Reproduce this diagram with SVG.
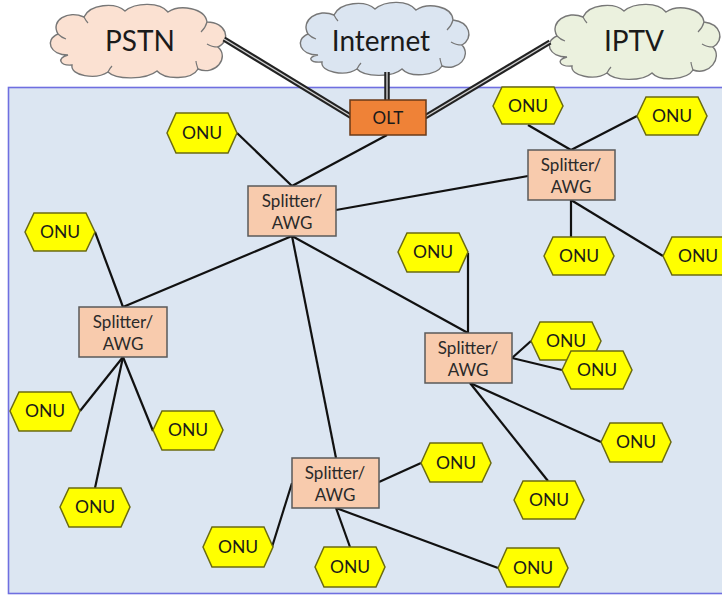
<svg xmlns="http://www.w3.org/2000/svg" width="722" height="600" viewBox="0 0 722 600">
<defs>
<style>
.t{font-family:Lato,"Open Sans","Liberation Sans",sans-serif;text-anchor:middle;fill:#1a1a1a}
.onu polygon{fill:#ffff00;stroke:#6b6b10;stroke-width:1.5}
.onu text{font-size:17.5px}
.sp rect{fill:#f8cbad;stroke:#5a5a5a;stroke-width:1.5}
.sp text{font-size:17px;fill:#2a2a2a}
.ln line{stroke:#111;stroke-width:2.2}
.dbl{stroke:#222;stroke-width:5.5}
.dbi{stroke:#d0d0d0;stroke-width:1.4}
.cloud path.c{stroke:#777;stroke-width:1.4}
.cloud path.i{fill:none;stroke:#777;stroke-width:1.2}
.cloud text{font-size:28px}
</style>
</defs>
<rect width="722" height="600" fill="#ffffff"/>
<rect id="panel" x="8.5" y="87.5" width="720" height="506" fill="#dce6f2" stroke="#6f6fe0" stroke-width="1.6"/>

<g id="clouds" class="cloud">
<g id="pstn">
<path class="c" d="M 68,55 C 50,55 44,40 58,34 C 50,20 68,10 84,17 C 90,4 115,2 125,11 C 136,2 160,2 168,12 C 180,4 205,8 207,22 C 226,22 232,40 218,47 C 230,58 215,76 198,69 C 192,80 165,80 157,71 C 146,80 116,80 108,72 C 96,80 70,76 72,65 C 60,66 56,58 68,55 Z" fill="#fbe1d2"/>
<path class="i" d="M 58,34 C 60,36 63,38 66,39 M 84,17 C 85,19 86,21 88,23 M 207,22 C 206,26 204,29 201,32 M 218,47 C 214,47 210,46 207,44 M 198,69 C 197,66 196,63 196,61 M 108,72 C 109,70 110,68 112,66"/>
<text class="t" x="140" y="51">PSTN</text>
</g>
<g id="internet">
<path class="c" d="M 318,55 C 300,55 294,40 308,34 C 300,20 318,8 334,15 C 340,2 365,0 375,9 C 386,0 408,0 416,10 C 428,2 452,6 453,20 C 470,22 474,38 462,45 C 472,56 458,72 442,66 C 436,76 410,78 402,69 C 392,78 364,77 357,69 C 345,77 320,72 322,62 C 310,63 306,57 318,55 Z" fill="#dbe5f1"/>
<path class="i" d="M 308,34 C 310,36 313,38 316,39 M 334,15 C 335,17 336,19 338,21 M 453,20 C 452,24 450,27 447,30 M 462,45 C 458,45 454,44 451,42 M 442,66 C 441,63 440,60 440,58 M 357,69 C 358,67 359,65 361,63"/>
<text class="t" x="381" y="51">Internet</text>
</g>
<g id="iptv">
<path class="c" d="M 567,57 C 549,57 543,42 557,36 C 549,22 567,10 583,17 C 589,4 614,2 624,11 C 635,2 658,2 666,12 C 678,4 702,8 704,22 C 721,24 725,40 713,47 C 723,58 709,76 693,70 C 687,80 660,82 652,73 C 642,82 614,81 607,73 C 595,81 570,76 572,66 C 560,67 555,60 567,57 Z" fill="#ebf1de"/>
<path class="i" d="M 557,36 C 559,38 562,40 565,41 M 583,17 C 584,19 585,21 587,23 M 704,22 C 703,26 701,29 698,32 M 713,47 C 709,47 705,46 702,44 M 693,70 C 692,67 691,64 691,62 M 607,73 C 608,71 609,69 611,67"/>
<text class="t" x="634" y="51">IPTV</text>
</g>
</g>

<g id="uplinks">
<line class="dbl" x1="224" y1="39" x2="352" y2="117"/>
<line class="dbi" x1="224" y1="39" x2="352" y2="117"/>
<line class="dbl" x1="387" y1="72" x2="387" y2="101"/>
<line class="dbi" x1="387" y1="72" x2="387" y2="101"/>
<line class="dbl" x1="550" y1="42" x2="425" y2="117"/>
<line class="dbi" x1="550" y1="42" x2="425" y2="117"/>
</g>

<g id="connectors" class="ln">
<line x1="387" y1="135" x2="292" y2="186"/>
<line x1="237" y1="133" x2="292" y2="186"/>
<line x1="336" y1="210" x2="528" y2="176"/>
<line x1="292" y1="236" x2="123" y2="307"/>
<line x1="292" y1="236" x2="336" y2="458"/>
<line x1="292" y1="236" x2="468" y2="333"/>
<line x1="528" y1="125" x2="571" y2="150"/>
<line x1="637" y1="116" x2="571" y2="150"/>
<line x1="571" y1="200" x2="571" y2="237"/>
<line x1="571" y1="200" x2="663" y2="256"/>
<line x1="95" y1="232" x2="123" y2="307"/>
<line x1="80" y1="411" x2="123" y2="357"/>
<line x1="123" y1="357" x2="153" y2="431"/>
<line x1="123" y1="357" x2="95" y2="488"/>
<line x1="468" y1="253" x2="468" y2="333"/>
<line x1="512" y1="358" x2="531" y2="341"/>
<line x1="512" y1="358" x2="562" y2="370"/>
<line x1="470" y1="383" x2="601" y2="442"/>
<line x1="470" y1="383" x2="548" y2="481"/>
<line x1="379" y1="482" x2="421" y2="463"/>
<line x1="272" y1="547" x2="292" y2="483"/>
<line x1="336" y1="508" x2="350" y2="547"/>
<line x1="336" y1="508" x2="498" y2="568"/>
</g>

<g id="olt">
<rect x="350" y="100" width="76" height="35" fill="#ef8237" stroke="#6a3a18" stroke-width="1.5"/>
<text class="t" x="388" y="124" font-size="17">OLT</text>
</g>

<g id="sp1" class="sp"><rect x="248" y="186" width="88" height="50"/><text class="t" x="292" y="207">Splitter/</text><text class="t" x="292" y="229">AWG</text></g>
<g id="sp2" class="sp"><rect x="528" y="150" width="87" height="50"/><text class="t" x="571" y="171">Splitter/</text><text class="t" x="571" y="193">AWG</text></g>
<g id="sp3" class="sp"><rect x="79" y="307" width="88" height="50"/><text class="t" x="123" y="328">Splitter/</text><text class="t" x="123" y="350">AWG</text></g>
<g id="sp4" class="sp"><rect x="425" y="333" width="87" height="50"/><text class="t" x="468" y="354">Splitter/</text><text class="t" x="468" y="376">AWG</text></g>
<g id="sp5" class="sp"><rect x="292" y="458" width="87" height="50"/><text class="t" x="335" y="479">Splitter/</text><text class="t" x="335" y="501">AWG</text></g>

<g id="onu1" class="onu" transform="translate(167,113)"><polygon points="0,20 9,0 61,0 70,20 61,40 9,40"/><text class="t" x="35" y="26">ONU</text></g>
<g id="onu2" class="onu" transform="translate(493,87)"><polygon points="0,19 9,0 61,0 70,19 61,37 9,37"/><text class="t" x="35" y="25">ONU</text></g>
<g id="onu3" class="onu" transform="translate(637,97)"><polygon points="0,19 9,0 61,0 70,19 61,38 9,38"/><text class="t" x="35" y="25">ONU</text></g>
<g id="onu4" class="onu" transform="translate(544,237)"><polygon points="0,19 9,0 61,0 70,19 61,38 9,38"/><text class="t" x="35" y="25">ONU</text></g>
<g id="onu5" class="onu" transform="translate(663,237)"><polygon points="0,19 9,0 61,0 70,19 61,38 9,38"/><text class="t" x="35" y="25">ONU</text></g>
<g id="onu6" class="onu" transform="translate(25,213)"><polygon points="0,19 9,0 61,0 70,19 61,38 9,38"/><text class="t" x="35" y="25">ONU</text></g>
<g id="onu7" class="onu" transform="translate(10,392)"><polygon points="0,19 9,0 61,0 70,19 61,39 9,39"/><text class="t" x="35" y="25">ONU</text></g>
<g id="onu8" class="onu" transform="translate(153,411)"><polygon points="0,19 9,0 61,0 70,19 61,39 9,39"/><text class="t" x="35" y="25">ONU</text></g>
<g id="onu9" class="onu" transform="translate(60,488)"><polygon points="0,19 9,0 61,0 70,19 61,39 9,39"/><text class="t" x="35" y="25">ONU</text></g>
<g id="onu10" class="onu" transform="translate(398,233)"><polygon points="0,19 9,0 61,0 70,19 61,39 9,39"/><text class="t" x="35" y="25">ONU</text></g>
<g id="onu11" class="onu" transform="translate(531,322)"><polygon points="0,19 9,0 61,0 70,19 61,38 9,38"/><text class="t" x="35" y="25">ONU</text></g>
<g id="onu12" class="onu" transform="translate(562,351)"><polygon points="0,19 9,0 61,0 70,19 61,38 9,38"/><text class="t" x="35" y="25">ONU</text></g>
<g id="onu13" class="onu" transform="translate(601,423)"><polygon points="0,19 9,0 61,0 70,19 61,39 9,39"/><text class="t" x="35" y="25">ONU</text></g>
<g id="onu14" class="onu" transform="translate(514,481)"><polygon points="0,19 9,0 61,0 70,19 61,38 9,38"/><text class="t" x="35" y="25">ONU</text></g>
<g id="onu15" class="onu" transform="translate(421,443)"><polygon points="0,20 9,0 61,0 70,20 61,39 9,39"/><text class="t" x="35" y="26">ONU</text></g>
<g id="onu16" class="onu" transform="translate(203,527)"><polygon points="0,20 9,0 61,0 70,20 61,40 9,40"/><text class="t" x="35" y="26">ONU</text></g>
<g id="onu17" class="onu" transform="translate(315,547)"><polygon points="0,20 9,0 61,0 70,20 61,40 9,40"/><text class="t" x="35" y="26">ONU</text></g>
<g id="onu18" class="onu" transform="translate(498,548)"><polygon points="0,20 9,0 61,0 70,20 61,39 9,39"/><text class="t" x="35" y="26">ONU</text></g>
</svg>
